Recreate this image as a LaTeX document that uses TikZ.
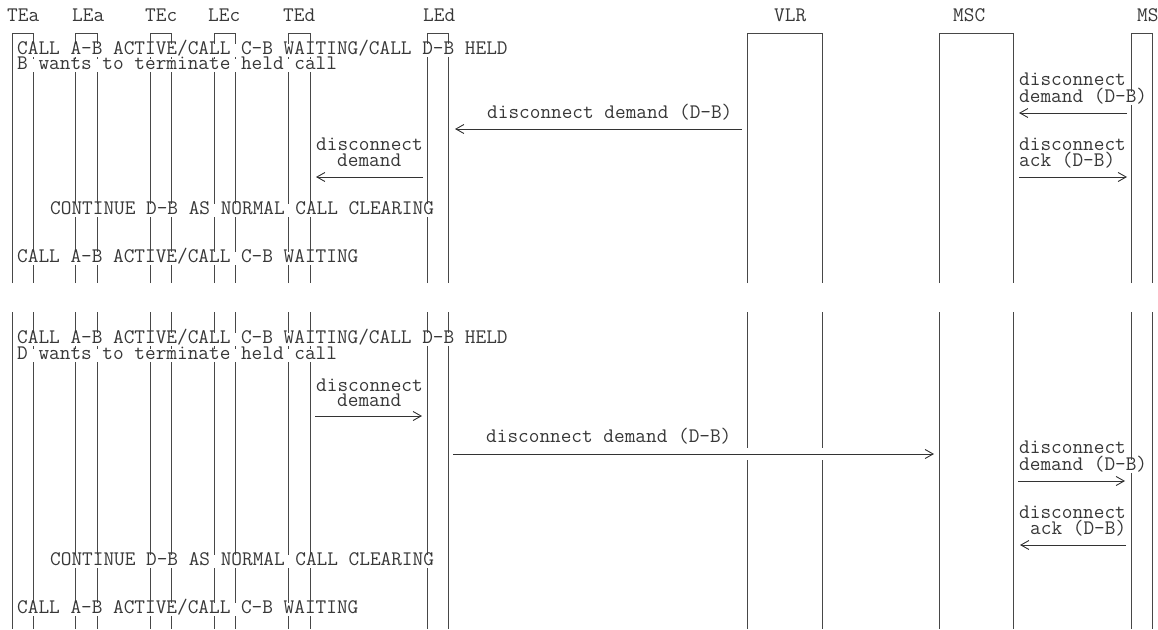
\documentclass[tikz,border=0pt]{standalone}
\usetikzlibrary{arrows.meta}
\tikzset{
  life/.style={draw=black!72, line width=0.9pt},
  hdr/.style={anchor=base west, inner sep=0pt, text=black!78, font=\ttfamily\fontsize{20.7}{16}\selectfont},
  txt/.style={hdr, fill=white, text height=11pt, text depth=2.2pt},
  msg/.style={draw=black!80, line width=0.9pt, -{Straight Barb[length=8pt,width=9pt,line width=0.9pt]},
              preaction={draw=white, line width=12pt, arrows=-}},
}
\newcommand{\rowtext}[4]{\node[txt] (#1) at (#2,#3+5.7) {#4};}
\newcommand{\hdrtext}[3]{\node[hdr] (#1) at (#2,21.7) {#3};}
\begin{document}
\begin{tikzpicture}[x=1pt,y=-1pt]
\useasboundingbox (0,0) rectangle (1158,629);
% lifelines
\foreach \a/\b in {12/33,75/97,150/171,214/235,288/310,427/448,747/822,939/1013,1131/1152} {
  \draw[life] (\a,283) -- (\a,33) -- (\b,33) -- (\b,283);
  \draw[life] (\a,312) -- (\a,629);
  \draw[life] (\b,312) -- (\b,629);
}
% headers
\hdrtext{hTEa}{7}{TEa}
\hdrtext{hLEa}{72}{LEa}
\hdrtext{hTEc}{145}{TEc}
\hdrtext{hLEc}{208}{LEc}
\hdrtext{hTEd}{283}{TEd}
\hdrtext{hLEd}{423}{LEd}
\hdrtext{hVLR}{774}{VLR}
\hdrtext{hMSC}{953}{MSC}
\hdrtext{hMS}{1137}{MS}
% arrow end points
\coordinate (a1s) at (1127,113); \coordinate (a1e) at (1019,113);
\coordinate (a2s) at (742,129);  \coordinate (a2e) at (455,129);
\coordinate (a3s) at (1019,177); \coordinate (a3e) at (1127,177);
\coordinate (a4s) at (423,177);  \coordinate (a4e) at (316,177);
\coordinate (b1s) at (315,416);  \coordinate (b1e) at (422,416);
\coordinate (b2s) at (453,454);  \coordinate (b2e) at (934,454);
\coordinate (b3s) at (1018,481); \coordinate (b3e) at (1125,481);
\coordinate (b4s) at (1126,545); \coordinate (b4e) at (1020,545);
\foreach \m in {a1,a2,a3,a4,b1,b2,b3,b4} { \draw[msg] (\m s) -- (\m e); }
% section 1 texts
\rowtext{t1}{17}{49}{CALL A-B ACTIVE/CALL C-B WAITING/CALL D-B HELD}
\rowtext{t2}{17}{64}{B wants to terminate held call}
\rowtext{t3}{1019}{80}{disconnect}
\rowtext{t4}{1019}{97}{demand (D-B)}
\rowtext{t5}{487}{113}{disconnect demand (D-B)}
\rowtext{t6}{316}{145}{disconnect}
\rowtext{t7}{337}{161}{demand}
\rowtext{t8}{1019}{145}{disconnect}
\rowtext{t9}{1019}{161}{ack (D-B)}
\rowtext{t10}{50}{209}{CONTINUE D-B AS NORMAL CALL CLEARING}
\rowtext{t11}{17}{257}{CALL A-B ACTIVE/CALL C-B WAITING}
% section 2 texts
\rowtext{u1}{17}{338}{CALL A-B ACTIVE/CALL C-B WAITING/CALL D-B HELD}
\rowtext{u2}{17}{354}{D wants to terminate held call}
\rowtext{u3}{316}{386}{disconnect}
\rowtext{u4}{337}{401}{demand}
\rowtext{u5}{486}{437}{disconnect demand (D-B)}
\rowtext{u6}{1019}{448}{disconnect}
\rowtext{u7}{1019}{465}{demand (D-B)}
\rowtext{u8}{1019}{513}{disconnect}
\rowtext{u9}{1030}{529}{ack (D-B)}
\rowtext{u10}{50}{560}{CONTINUE D-B AS NORMAL CALL CLEARING}
\rowtext{u11}{17}{608}{CALL A-B ACTIVE/CALL C-B WAITING}
\end{tikzpicture}
\end{document}
